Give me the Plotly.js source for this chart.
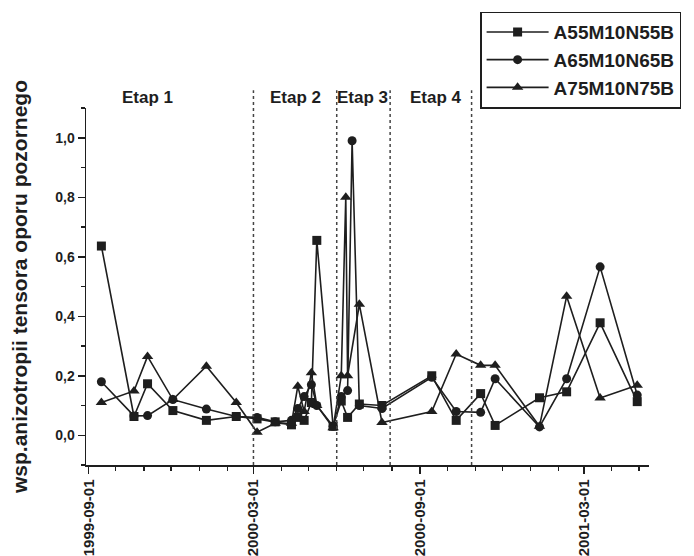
<!DOCTYPE html>
<html>
<head>
<meta charset="utf-8">
<script src="https://cdn.plot.ly/plotly-3.0.1.min.js"></script>
<style>html,body{margin:0;padding:0;background:#fff;}#chart{width:694px;height:556px;}</style>
</head>
<body>
<div id="chart"></div>
<script>
// ---- data ----
const seriesNames = ["A55M10N55B", "A65M10N65B", "A75M10N75B"];

const datesA55 = ["1999-09-15","1999-10-21","1999-11-05","1999-12-03","2000-01-09","2000-02-11",
  "2000-03-05","2000-03-25","2000-04-12","2000-04-19","2000-04-26","2000-05-04","2000-05-10",
  "2000-05-28","2000-06-06","2000-06-13","2000-06-26","2000-07-21","2000-09-14","2000-10-11",
  "2000-11-07","2000-11-23","2001-01-11","2001-02-10","2001-03-19","2001-04-29"];
const valuesA55 = [0.636,0.063,0.173,0.083,0.050,0.063,
  0.055,0.045,0.035,0.060,0.050,0.110,0.655,
  0.030,0.115,0.060,0.105,0.100,0.200,0.050,
  0.140,0.033,0.126,0.146,0.378,0.113];

const datesA65 = ["1999-09-15","1999-10-21","1999-11-05","1999-12-03","2000-01-09","2000-02-11",
  "2000-03-05","2000-03-25","2000-04-12","2000-04-19","2000-04-26","2000-05-04","2000-05-10",
  "2000-05-28","2000-06-06","2000-06-13","2000-06-18","2000-06-26","2000-07-21","2000-09-14",
  "2000-10-11","2000-11-07","2000-11-23","2001-01-11","2001-02-10","2001-03-19","2001-04-29"];
const valuesA65 = [0.180,0.065,0.066,0.120,0.088,0.063,
  0.060,0.045,0.050,0.090,0.130,0.170,0.100,
  0.030,0.130,0.150,0.990,0.100,0.090,0.195,
  0.080,0.077,0.190,0.028,0.190,0.566,0.135];

const datesA75 = ["1999-09-15","1999-10-21","1999-11-05","1999-12-03","2000-01-09","2000-02-11",
  "2000-03-05","2000-03-25","2000-04-12","2000-04-19","2000-04-26","2000-05-04","2000-05-10",
  "2000-05-28","2000-06-06","2000-06-11","2000-06-13","2000-06-26","2000-07-21","2000-09-14",
  "2000-10-11","2000-11-07","2000-11-23","2001-01-11","2001-02-10","2001-03-19","2001-04-29"];
const valuesA75 = [0.110,0.149,0.265,0.120,0.232,0.110,
  0.010,0.040,0.040,0.165,0.080,0.210,0.100,
  0.025,0.200,0.800,0.200,0.440,0.043,0.080,
  0.273,0.235,0.235,0.030,0.467,0.125,0.168];

const stageBounds = ["2000-03-01","2000-06-01","2000-07-30","2000-10-28"];
const stageLabels = ["Etap 1","Etap 2","Etap 3","Etap 4"];
const stageLabelDates = ["1999-11-05","2000-04-17","2000-06-30","2000-09-19"];

const xTickVals = ["1999-09-01","2000-03-01","2000-09-01","2001-03-01"];
const yTitle = "wsp.anizotropii tensora oporu pozornego";

// ---- drawing ----
const ink = "#1e1e1e";
const fam = "Liberation Sans, Arial, sans-serif";
const symbols = ["square","circle","triangle-up"];
const xs = [datesA55, datesA65, datesA75];
const ys = [valuesA55, valuesA65, valuesA75];

const traces = seriesNames.map((n,i)=>({
  type:"scatter", mode:"lines+markers", name:n,
  x: xs[i], y: ys[i],
  line:{color:ink, width:1.6},
  marker:{symbol:symbols[i], size: i===2 ? 10 : 9, color:ink}
}));

const shapes = stageBounds.map(d=>({
  type:"line", xref:"x", yref:"paper", x0:d, x1:d, y0:0, y1:1.05,
  line:{color:"#444", width:1.5, dash:"dot"}
}));

const annotations = stageLabels.map((t,i)=>({
  text:t, xref:"x", yref:"paper", x:stageLabelDates[i], y:1.03,
  showarrow:false, xanchor:"center", yanchor:"middle",
  font:{family:fam, size:17, weight:"bold", color:ink}
}));

const layout = {
  width:694, height:556,
  margin:{l:86, r:45, t:103, b:91},
  paper_bgcolor:"#fff", plot_bgcolor:"#fff",
  separators:",.",
  showlegend:true,
  font:{family:fam, color:ink, weight:"bold"},
  xaxis:{
    type:"date", range:["1999-08-29","2001-05-12"],
    tickvals:xTickVals, tickformat:"%Y-%m-%d", tickangle:-90,
    ticks:"outside", ticklen:7, tickwidth:1.5, tickcolor:ink,
    minor:{dtick:"M1", tick0:"1999-09-01", ticks:"outside", ticklen:4, tickwidth:1.2, tickcolor:ink, showgrid:false},
    showline:true, linecolor:ink, linewidth:1.5,
    showgrid:false, zeroline:false,
    tickfont:{family:fam, size:15, weight:"bold", color:ink}
  },
  yaxis:{
    range:[-0.1, 1.1], tick0:0, dtick:0.2, tickformat:".1f",
    ticks:"outside", ticklen:7, tickwidth:1.5, tickcolor:ink,
    minor:{dtick:0.1, ticks:"outside", ticklen:4, tickwidth:1.2, tickcolor:ink, showgrid:false},
    showline:true, linecolor:ink, linewidth:1.5,
    showgrid:false, zeroline:false,
    tickfont:{family:fam, size:14, weight:"bold", color:ink},
    title:{text:yTitle, standoff:22, font:{family:fam, size:21, weight:"bold", color:ink}}
  },
  legend:{
    x:0.70, y:1.27, xanchor:"left", yanchor:"top", xref:"paper", yref:"paper",
    bgcolor:"#fff", bordercolor:ink, borderwidth:1.5,
    font:{family:fam, size:19, weight:"bold", color:ink},
    itemwidth:62
  },
  shapes:shapes,
  annotations:annotations
};

Plotly.newPlot("chart", traces, layout, {displayModeBar:false, staticPlot:true});
</script>
</body>
</html>
